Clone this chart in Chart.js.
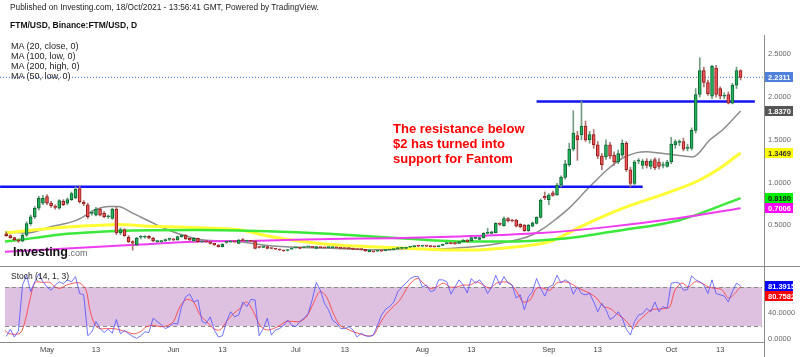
<!DOCTYPE html>
<html><head><meta charset="utf-8">
<script src="https://cdn.jsdelivr.net/npm/chart.js@4.4.0/dist/chart.umd.min.js"></script>
<style>
html,body{margin:0;padding:0;background:#fff;}
#wrap{position:relative;width:800px;height:357px;overflow:hidden;background:#fff;font-family:"Liberation Sans",Arial,sans-serif;}
canvas{position:absolute;left:0;}
.t{position:absolute;white-space:nowrap;line-height:1;}
.ln{position:absolute;background:#8c8c8c;}
</style></head><body>
<div id="wrap">
<canvas id="main" width="800" height="266" style="top:0px"></canvas>
<canvas id="stoch" width="800" height="91" style="top:266px"></canvas>
<div class="ln" style="left:0;top:266px;width:800px;height:1px;"></div>
<div class="ln" style="left:764px;top:35px;width:1px;height:322px;"></div>
<div class="t" style="left:10px;top:3px;font-size:8.3px;color:#222;">Published on Investing.com, 18/Oct/2021 - 13:56:41 GMT, Powered by TradingView.</div>
<div class="t" style="left:10px;top:20.5px;font-size:8.5px;font-weight:bold;color:#111;">FTM/USD, Binance:FTM/USD, D</div>
<div class="t" style="left:11px;top:42px;font-size:9px;color:#222;">MA (20, close, 0)</div>
<div class="t" style="left:11px;top:52px;font-size:9px;color:#222;">MA (100, low, 0)</div>
<div class="t" style="left:11px;top:62px;font-size:9px;color:#222;">MA (200, high, 0)</div>
<div class="t" style="left:11px;top:72px;font-size:9px;color:#222;">MA (50, low, 0)</div>
<div class="t" style="left:393px;top:121.5px;font-size:13px;font-weight:bold;color:#ff0000;">The resistance below</div>
<div class="t" style="left:393px;top:136.5px;font-size:13px;font-weight:bold;color:#ff0000;">$2 has turned into</div>
<div class="t" style="left:393px;top:151.5px;font-size:13px;font-weight:bold;color:#ff0000;">support for Fantom</div>
<div class="t" style="left:13px;top:245.5px;font-size:12.5px;font-weight:bold;color:#111;">Investing<span style="font-size:9px;font-weight:normal;color:#666;">.com</span></div>
<div class="t" style="left:11px;top:272px;font-size:8.5px;color:#222;">Stoch (14, 1, 3)</div>
</div>
<script>
// ---------- DATA ----------
const startDay = -10; // day offset relative to 1 May 2021 (first candle = 21 Apr)
const opens = [
.40,.38,.355,.33,.315,.385,.52,.60,.70,.76,
.835,.76,.72,.70,.78,.76,.80,.82,.93,.77,
.74,.64,.62,.69,.64,.60,.58,.69,.41,.45,
.36,.31,.27,.36,.36,.37,.35,.31,.31,.32,
.335,.335,.33,.367,.386,.347,.316,.347,.308,.31,
.308,.289,.27,.25,.30,.306,.308,.289,.33,.316,
.316,.316,.242,.242,.25,.23,.228,.22,.21,.205,
.222,.236,.242,.24,.248,.245,.23,.24,.241,.238,
.238,.239,.238,.23,.232,.23,.218,.218,.218,.191,
.193,.197,.2,.203,.211,.216,.228,.23,.23,.245,
.25,.257,.256,.258,.256,.255,.25,.266,.285,.292,
.297,.289,.309,.328,.316,.347,.336,.355,.405,.406,
.414,.52,.495,.58,.56,.56,.51,.503,.437,.49,
.523,.593,.84,.80,.88,.855,.97,1.06,1.21,1.39,
1.55,1.56,1.66,1.50,1.56,1.44,1.31,1.30,1.44,1.32,
1.24,1.32,1.46,1.15,.99,1.25,1.20,1.25,1.19,1.27,
1.24,1.20,1.19,1.24,1.44,1.47,1.48,1.40,1.40,1.61,
2.03,2.31,2.17,2.01,2.34,2.10,2.01,2.03,1.93,2.14,2.31];
const highs = [
.42,.39,.36,.34,.40,.54,.62,.72,.84,.85,
.86,.78,.74,.80,.80,.82,.89,.95,.96,.79,
.76,.67,.71,.70,.66,.62,.70,.71,.47,.46,
.38,.32,.36,.38,.38,.38,.36,.32,.32,.34,
.35,.345,.375,.395,.39,.35,.355,.35,.315,.315,
.31,.29,.275,.285,.305,.315,.315,.335,.345,.325,
.325,.32,.25,.258,.255,.236,.232,.224,.214,.215,
.232,.242,.246,.248,.255,.25,.255,.244,.244,.242,
.242,.243,.241,.234,.234,.233,.222,.222,.22,.215,
.196,.202,.203,.215,.215,.222,.234,.236,.246,.252,
.26,.262,.262,.262,.258,.258,.26,.282,.295,.296,
.30,.312,.332,.333,.36,.355,.36,.415,.464,.43,
.53,.53,.60,.59,.57,.57,.52,.51,.51,.54,
.60,.81,.89,.87,.90,.99,1.08,1.26,1.46,1.84,
1.60,1.95,1.72,1.60,1.62,1.48,1.34,1.50,1.47,1.36,
1.38,1.50,1.48,1.18,1.26,1.28,1.27,1.28,1.27,1.29,
1.28,1.24,1.26,1.53,1.50,1.50,1.52,1.45,1.64,2.10,
2.46,2.35,2.20,2.37,2.37,2.12,2.05,2.06,2.16,2.35,2.32];
const lows = [
.37,.35,.32,.30,.31,.37,.50,.58,.68,.74,
.74,.71,.69,.69,.73,.74,.79,.81,.76,.73,
.58,.62,.61,.61,.59,.58,.57,.39,.39,.37,
.30,.21,.26,.34,.35,.34,.31,.30,.30,.31,
.32,.32,.325,.36,.335,.32,.31,.30,.30,.30,
.28,.265,.245,.245,.29,.30,.30,.285,.315,.31,
.31,.225,.235,.24,.225,.225,.215,.205,.195,.20,
.218,.232,.226,.236,.244,.238,.226,.234,.232,.234,
.234,.234,.226,.226,.224,.214,.214,.213,.195,.188,
.186,.194,.195,.20,.208,.214,.225,.227,.228,.24,
.245,.25,.25,.25,.245,.244,.246,.262,.28,.282,
.276,.285,.305,.305,.312,.34,.33,.35,.40,.40,
.41,.50,.49,.54,.54,.48,.47,.43,.43,.48,
.515,.585,.80,.74,.84,.85,.95,1.04,1.19,1.37,
1.26,1.50,1.48,1.46,1.40,1.28,1.15,1.27,1.28,1.20,
1.22,1.30,1.13,.95,.97,1.22,1.16,1.17,1.16,1.15,
1.16,1.17,1.18,1.22,1.40,1.43,1.37,1.37,1.38,1.58,
2.00,2.12,2.02,1.98,2.00,1.98,1.98,1.92,1.92,2.10,2.20];
const closes = [
.38,.355,.33,.315,.385,.52,.60,.70,.815,.815,
.76,.73,.71,.79,.74,.80,.87,.92,.775,.75,
.60,.64,.69,.62,.60,.60,.69,.41,.45,.38,
.31,.29,.35,.37,.37,.35,.32,.31,.31,.33,
.34,.33,.367,.386,.34,.328,.347,.308,.31,.306,
.289,.27,.25,.277,.30,.308,.306,.328,.32,.318,
.314,.23,.24,.252,.23,.229,.22,.211,.199,.211,
.23,.238,.23,.243,.25,.242,.25,.238,.236,.238,
.239,.237,.23,.229,.228,.218,.217,.216,.199,.211,
.191,.199,.198,.212,.212,.219,.231,.232,.243,.25,
.257,.256,.258,.256,.25,.248,.256,.278,.289,.286,
.281,.309,.328,.309,.355,.349,.355,.406,.41,.425,
.523,.51,.58,.55,.55,.49,.484,.437,.503,.53,
.593,.796,.82,.855,.85,.97,1.06,1.22,1.39,1.58,
1.50,1.66,1.50,1.56,1.44,1.31,1.21,1.44,1.31,1.24,
1.34,1.46,1.15,.99,1.24,1.255,1.25,1.20,1.25,1.17,
1.19,1.21,1.24,1.45,1.48,1.47,1.39,1.41,1.61,2.03,
2.31,2.17,2.04,2.36,2.03,2.01,2.02,1.93,2.14,2.31,2.2311];

// Moving averages (day, value)
const ma20Days = [-10.3,-5,0.7,7.3,12.2,15,17.4,21.1,25,29,33,38,46.6,54.7,62.7,71,79.2,87.3,98.8,106.9,111,116,119,121.6,123.3,127.5,133,137.3,141.2,144.6,147,149.5,154.4,158.3,162.5,165.7,170];
const ma20Vals = [0.425,0.41,0.48,0.56,0.69,0.72,0.72,0.64,0.55,0.46,0.39,0.33,0.31,0.26,0.24,0.23,0.215,0.22,0.23,0.26,0.29,0.34,0.39,0.46,0.52,0.68,0.95,1.15,1.29,1.35,1.36,1.35,1.32,1.30,1.50,1.62,1.837];
const ma50Days = [-10.3,-3.4,4.9,13,17.1,25.2,37.5,46.6,54.7,62.7,71,79.2,89,98.8,103,115.2,123.3,130.6,141.2,152.7,160,165,170];
const ma50Vals = [0.41,0.445,0.48,0.50,0.51,0.49,0.47,0.45,0.37,0.31,0.27,0.25,0.23,0.21,0.21,0.25,0.31,0.48,0.70,0.89,1.03,1.17,1.3469];
const ma200Days = [-10.3,-3.4,4.9,13,21,37.5,54,69,86.5,103,115,123,131,140.4,155,170];
const ma200Vals = [0.31,0.35,0.40,0.425,0.44,0.445,0.43,0.40,0.35,0.31,0.31,0.33,0.37,0.44,0.56,0.818];
const ma100Days = [-10.3,4.9,21,37.5,52,69.4,84.8,101,121,135.5,155,170];
const ma100Vals = [0.19,0.23,0.27,0.31,0.32,0.34,0.35,0.37,0.41,0.47,0.585,0.7006];

// Horizontal levels drawn on the chart
const supportLevel = 0.952, supportFrom = -11.5, supportTo = 146;
const resistLevel = 1.947, resistFrom = 120, resistTo = 173.5;

// Stochastic (14,1,3)
const stochK = [
4,15,3,13,83,98,73,88,100,88,
80,75,83,88,85,91,88,96,70,68,
5,11,27,16,10,15,9,30,8,13,
8,4,1,5,11,10,32,27,22,16,
19,24,23,50,65,69,57,60,27,24,
34,14,3,5,27,42,34,37,57,50,
61,60,5,16,32,6,14,16,21,29,
21,19,27,32,39,60,87,75,55,45,
29,24,16,16,19,14,3,9,5,4,
6,21,37,46,50,57,73,
80,86,93,96,96,80,83,73,75,91,
91,88,69,80,91,83,71,93,86,91,
83,70,80,98,83,96,86,83,63,68,
45,65,73,93,78,66,80,83,98,86,
91,87,69,80,70,68,70,57,42,55,
45,30,34,42,32,15,6,27,37,39,
47,42,57,42,50,47,86,87,86,75,
76,97,91,88,83,70,91,70,68,66,
57,73,86,81.3915];
const stochDDays = [-10.3,-9.1,-6.6,-5.4,-4.2,-2.9,-0.9,0.7,2.0,3.2,4.8,6.5,8.1,9.6,10.5,11.8,13.0,14.6,16.3,17.9,19.5,21.2,22.8,24.4,26.1,27.7,29.3,31.0,32.6,34.2,35.9,37.5,39.1,40.8,42.4,44.0,45.7,47.3,48.9,50.6,52.2,53.8,55.5,57.1,58.7,60.4,62.0,63.6,65.3,66.9,68.5,70.2,71.8,73.4,75.1,76.7,78.3,80.0,81.6,83.2,84.9,
86.5,88.2,89.8,91.0,92.2,93.9,95.5,97.1,98.8,100.4,102.0,103.7,105.3,106.9,108.6,110.2,111.8,113.4,115.1,116.7,118.4,120.0,121.7,123.3,124.9,126.6,128.2,129.8,131.4,133.1,134.7,136.4,138.0,139.6,141.2,142.9,143.7,144.9,146.6,148.2,149.8,151.5,152.7,153.9,155.6,157.3,158.8,160.5,162.1,163.7,165.4,167.0,168.6,170];
const stochD = [13,8,9,27,60,87,87,87,80,78,83,86,86,75,45,21,16,16,16,14,11,8,11,19,21,19,20,27,50,61,57,37,27,16,14,27,39,47,57,42,21,14,16,21,27,27,27,34,55,73,65,39,21,16,11,8,5,6,24,39,50,
60,78,90,93,86,78,80,86,80,80,83,83,88,83,78,86,88,86,73,57,60,78,78,75,86,88,86,80,75,70,63,50,47,39,32,21,16,27,37,45,46,47,50,75,86,80,88,86,80,78,76,63,70,80.7582];
const stochUpper = 80, stochLower = 20;

// Axis ticks
const priceTicks = [0.5, 1.0, 1.5, 2.0, 2.5];
const stochTicks = [0, 40, 80];
const tickDays = [0,12,31,43,61,73,92,104,123,135,153,165];
const tickLabels = ['May','13','Jun','13','Jul','13','Aug','13','Sep','13','Oct','13'];

// ---------- STYLE / SCALE CONSTANTS ----------
const X_MIN = -11.52, X_MAX = 175.74;
const FONT = '"Liberation Sans", Arial, sans-serif';
const days = opens.map((_, i) => startDay + i);
const last = a => a[a.length - 1];
const isUp = closes.map((c, i) => c >= opens[i]);
const noPad = s => { s.paddingTop = 0; s.paddingBottom = 0; s.paddingLeft = 0; s.paddingRight = 0; };

function boxPlugin(items){
  return {id:'boxes', afterDraw(chart){
    const {ctx, scales:{y}} = chart;
    ctx.save();
    ctx.font = 'bold 7.5px ' + FONT;
    ctx.textBaseline = 'middle';
    const list = items.map(it => Object.assign({py: y.getPixelForValue(it.v)}, it)).sort((a,b)=>a.py-b.py);
    let prev = -1e9;
    list.forEach(it => {
      let py = it.py;
      if (py - prev < 10) py = prev + 10;
      prev = py;
      ctx.fillStyle = it.bg;
      ctx.fillRect(765, Math.round(py - 5), 28, 10);
      ctx.fillStyle = it.fg;
      ctx.fillText(it.v.toFixed(4), 768, Math.round(py - 5) + 5.5);
    });
    ctx.restore();
  }};
}

const lineDs = (dx, vy, color, width, order) => ({
  type:'line', data: dx.map((d,i)=>({x:d, y:vy[i]})), borderColor: color, borderWidth: width,
  pointRadius:0, tension:0.4, cubicInterpolationMode:'monotone', order: order, fill:false
});

new Chart(document.getElementById('main'), {
  type:'bar',
  data:{datasets:[
    {type:'bar', data: days.map((d,i)=>({x:d, y:[lows[i], highs[i]]})),
     backgroundColor: isUp.map(u => u ? '#6f9d80' : '#b07373'), barThickness:1, grouped:false, order:0},
    {type:'bar', data: days.map((d,i)=>({x:d, y:[opens[i], closes[i]]})),
     backgroundColor: isUp.map(u => u ? '#22b35c' : '#f05454'),
     borderColor: isUp.map(u => u ? '#0f6530' : '#8e1b1b'),
     borderWidth:1, borderSkipped:false, barThickness:3, minBarLength:1, grouped:false, order:-1},
    {type:'line', data:[{x:supportFrom,y:supportLevel},{x:supportTo,y:supportLevel}], borderColor:'#1212f5', borderWidth:2.5, pointRadius:0, order:1},
    {type:'line', data:[{x:resistFrom,y:resistLevel},{x:resistTo,y:resistLevel}], borderColor:'#1212f5', borderWidth:2.5, pointRadius:0, order:1},
    {type:'line', data:[{x:X_MIN,y:last(closes)},{x:X_MAX,y:last(closes)}], borderColor:'#3a66d6', borderWidth:1, borderDash:[1,2], pointRadius:0, order:1},
    lineDs(ma100Days, ma100Vals, '#f03cf0', 2, 2),
    lineDs(ma200Days, ma200Vals, '#3ce83c', 2.5, 2),
    lineDs(ma50Days, ma50Vals, '#ffff33', 3, 2),
    lineDs(ma20Days, ma20Vals, '#8c8c8c', 1.5, 2)
  ]},
  options:{
    responsive:false, devicePixelRatio:1, animation:false, events:[],
    layout:{padding:{top:35,left:0,right:0,bottom:0}, autoPadding:false},
    plugins:{legend:{display:false}, tooltip:{enabled:false}},
    scales:{
      x:{type:'linear', min:X_MIN, max:X_MAX, display:false, offset:false, grid:{offset:false}, afterFit: noPad},
      y:{position:'right', min:0.024, max:2.726,
         afterBuildTicks: s => { s.ticks = priceTicks.map(v => ({value:v})); },
         afterFit: s => { s.width = 36; noPad(s); },
         grid:{display:false, drawTicks:false}, border:{display:false},
         ticks:{padding:4, color:'#666', font:{family:FONT, size:7.5}, callback: v => Number(v).toFixed(4)}}
    }
  },
  plugins:[boxPlugin([
    {v:last(closes), bg:'#4f80dc', fg:'#fff'},
    {v:last(ma20Vals), bg:'#555555', fg:'#fff'},
    {v:last(ma50Vals), bg:'#ffff00', fg:'#333'},
    {v:last(ma200Vals), bg:'#00ee00', fg:'#222'},
    {v:last(ma100Vals), bg:'#ff00ff', fg:'#fff'}
  ])]
});

const bandPlugin = {id:'band', beforeDatasetsDraw(chart){
  const {ctx, chartArea:a, scales:{y}} = chart;
  const y80 = Math.round(y.getPixelForValue(stochUpper)), y20 = Math.round(y.getPixelForValue(stochLower));
  ctx.save();
  ctx.fillStyle = '#dec1e1';
  ctx.fillRect(a.left + 5, y80, a.right - a.left - 7, y20 - y80);
  ctx.strokeStyle = '#8a8a8a'; ctx.lineWidth = 1; ctx.setLineDash([4,3]);
  [y80, y20].forEach(yy => { ctx.beginPath(); ctx.moveTo(a.left + 5, yy + 0.5); ctx.lineTo(a.right - 2, yy + 0.5); ctx.stroke(); });
  ctx.restore();
}};

new Chart(document.getElementById('stoch'), {
  type:'line',
  data:{datasets:[
    {data: stochDDays.map((d,i)=>({x:d, y:stochD[i]})), borderColor:'rgba(255,60,60,0.85)', borderWidth:1, pointRadius:0, tension:0.3, order:1},
    {data: days.map((d,i)=>({x:d, y:stochK[i]})), borderColor:'rgba(80,80,255,0.8)', borderWidth:1, pointRadius:0, tension:0, order:0}
  ]},
  options:{
    responsive:false, devicePixelRatio:1, animation:false, events:[],
    layout:{padding:0, autoPadding:false},
    plugins:{legend:{display:false}, tooltip:{enabled:false}},
    scales:{
      x:{type:'linear', min:X_MIN, max:X_MAX, offset:false,
         afterBuildTicks: s => { s.ticks = tickDays.map(v => ({value:v})); },
         afterFit: s => { s.height = 15; noPad(s); },
         grid:{display:false, drawTicks:false}, border:{display:true, color:'#8c8c8c'},
         ticks:{padding:3, autoSkip:false, maxRotation:0, color:'#444', font:{family:FONT, size:7.5},
                callback: (v) => { const k = tickDays.indexOf(v); return k >= 0 ? tickLabels[k] : ''; }}},
      y:{position:'right', min:-4.6, max:112.3,
         afterBuildTicks: s => { s.ticks = stochTicks.map(v => ({value:v})); },
         afterFit: s => { s.width = 36; noPad(s); },
         grid:{display:false, drawTicks:false}, border:{display:false},
         ticks:{padding:4, color:'#666', font:{family:FONT, size:7.5}, callback: v => Number(v).toFixed(4)}}
    }
  },
  plugins:[bandPlugin, boxPlugin([
    {v:last(stochK), bg:'#0000ff', fg:'#fff'},
    {v:last(stochD), bg:'#ff0000', fg:'#fff'}
  ])]
});
</script>
</body></html>
